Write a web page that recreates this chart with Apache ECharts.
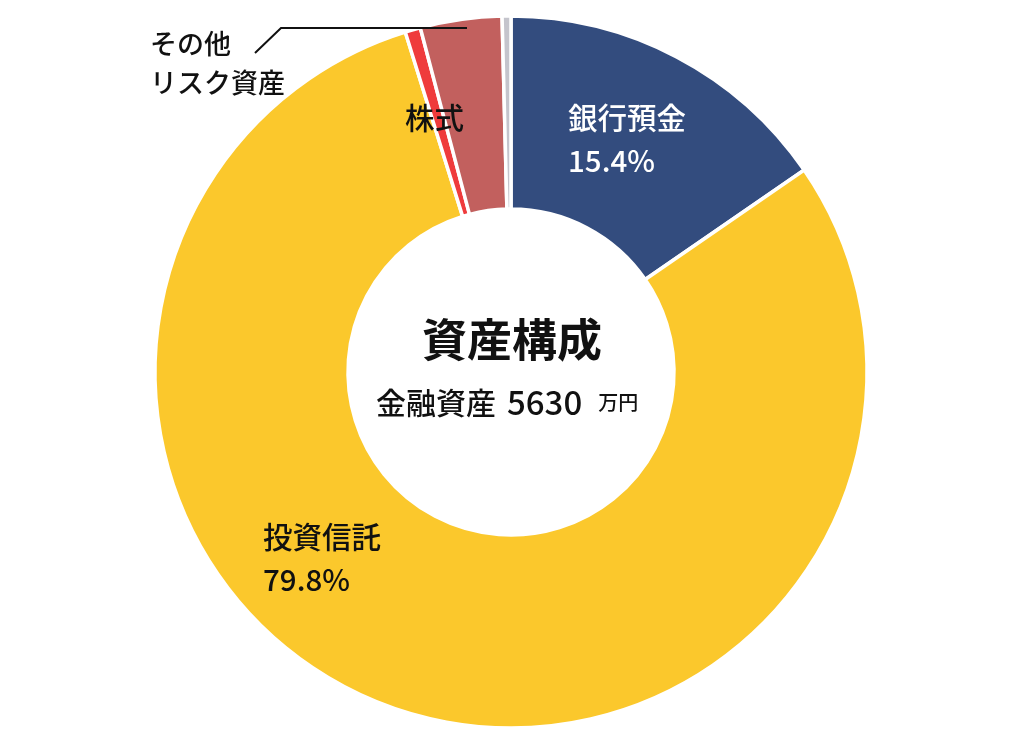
<!DOCTYPE html>
<html><head><meta charset="utf-8">
<script src="https://cdn.jsdelivr.net/npm/echarts@6/dist/echarts.min.js"></script>
<style>html,body{margin:0;padding:0;background:#fff}#c{width:1024px;height:742px}</style>
</head><body><div id="c"></div>
<script>
const categories = ['銀行預金', '投資信託', 'その他リスク資産', '株式', 'その他'];
const values = [15.4, 79.8, 0.7, 3.7, 0.4];
const colors = ['#334c7e', '#fbc82c', '#ef3b3c', '#c2605e', '#c4c4cc'];
const centerTitle = '資産構成';
const totalLabel = '金融資産';
const totalValue = 5630;
const totalUnit = '万円';

const FONT = '"Noto Sans CJK JP", "Noto Sans", sans-serif';
const chart = echarts.init(document.getElementById('c'), null, {renderer: 'canvas'});

function txt(x, y, text, size, color, weight) {
  return {type: 'text', z: 100, left: x, top: y, style: {text: text, font: (weight||'500') + ' ' + size + 'px ' + FONT, fill: color, lineHeight: Math.round(size*1.45)}};
}

chart.setOption({
  backgroundColor: '#ffffff',
  animation: false,
  series: [{
    type: 'pie',
    center: [511, 372],
    radius: [163, 356],
    startAngle: 90,
    clockwise: true,
    silent: true,
    label: {show: false},
    labelLine: {show: false},
    itemStyle: {borderColor: '#ffffff', borderWidth: 3.5},
    data: categories.map((c, i) => ({name: c, value: values[i], itemStyle: {color: colors[i]}}))
  }],
  graphic: [
    txt(568, 96, categories[0] + '\n' + values[0].toFixed(1) + '%', 29.5, '#ffffff'),
    txt(263, 515, categories[1] + '\n' + values[1].toFixed(1) + '%', 29.5, '#111111'),
    txt(405, 96, categories[3], 29.5, '#111111'),
    txt(150, 24, 'その他\nリスク資産', 27, '#111111'),
    {type: 'polyline', z: 100, shape: {points: [[255, 53], [281, 28], [467, 28]]}, style: {stroke: '#111111', lineWidth: 2, fill: null}},
    {type: 'text', z: 100, left: 'center', top: 317, style: {text: centerTitle, font: 'bold 45px ' + FONT, fill: '#111111'}},
    {type: 'text', z: 100, left: 376, top: 386, style: {
      text: '{a|' + totalLabel + '}{b|' + totalValue + '}{c|' + totalUnit + '}',
      rich: {
        a: {fontFamily: FONT, fontSize: 30, fontWeight: 500, fill: '#111111'},
        b: {fontFamily: FONT, fontSize: 33, fontWeight: 500, fill: '#111111', padding: [0, 16, 0, 11]},
        c: {fontFamily: FONT, fontSize: 20, fontWeight: 500, fill: '#111111'}
      }
    }}
  ]
});
</script></body></html>
